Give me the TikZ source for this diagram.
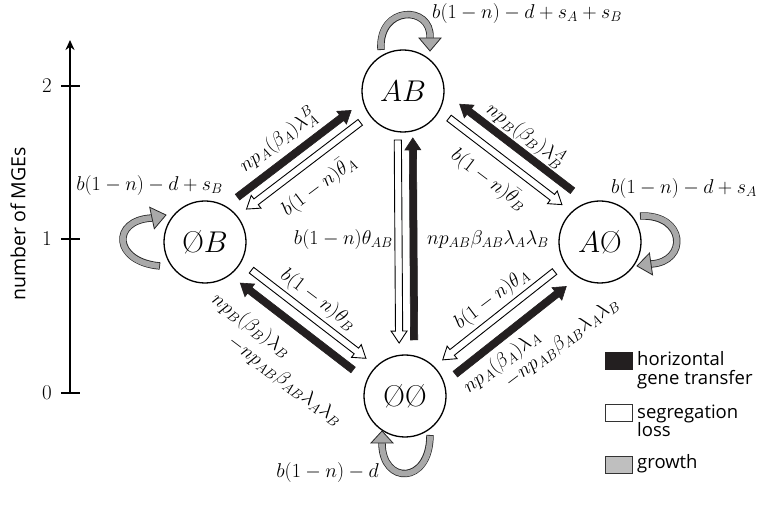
\RequirePackage{fix-cm}
\documentclass[tikz,border=0pt]{standalone}
\usepackage{fontspec}
\newfontfamily\sansf{Open Sans}
\usetikzlibrary{calc,arrows.meta}
\definecolor{hgt}{HTML}{231F20}
\definecolor{grow}{HTML}{A9A9A9}
\definecolor{growleg}{HTML}{BFBFBF}
\newcommand\blockarr[6]{%
 \path ($(#1)!#3!90:(#2)$) coordinate (bxp) ($(#2)!#3!-90:(#1)$) coordinate (bxq);
 \path ($(bxp)!#4!(bxq)$) coordinate (bxs) ($(bxq)!#5!(bxp)$) coordinate (bxe);
 \path ($(bxe)!12pt!(bxs)$) coordinate (bxh);
 \draw[#6] ($(bxs)!3.6pt!90:(bxe)$) -- ($(bxh)!3.6pt!-90:(bxs)$) -- ($(bxh)!8pt!-90:(bxs)$) -- (bxe) -- ($(bxh)!8pt!90:(bxs)$) -- ($(bxh)!3.6pt!90:(bxs)$) -- ($(bxs)!3.6pt!-90:(bxe)$) -- cycle;
}
\newcommand\growloop[3]{%
 \draw[line width=7.4pt, draw=black!85] #1;
 \draw[line width=5.8pt, draw=grow, shorten <=0.8pt] #1;
 \filldraw[fill=grow, draw=black!85, line width=0.8pt] ($(#2)!11pt!90:(#3)$) -- (#3) -- ($(#2)!11pt!-90:(#3)$) -- cycle;
}
\tikzset{
 state/.style={circle, draw, line width=1.3pt, minimum size=82pt, inner sep=0pt, font=\fontsize{30}{30}\selectfont},
 lab/.style={inner sep=0pt, font=\fontsize{20}{23}\selectfont},
 hgtarr/.style={fill=hgt, draw=hgt, line width=0.6pt},
 segarr/.style={fill=white, draw=black, line width=0.9pt},
 sansl/.style={font=\sansf\fontsize{18.5}{18.5}\selectfont, inner sep=0pt, align=left},
}
\begin{document}
\begin{tikzpicture}[x=1pt,y=-1pt]
\useasboundingbox (0,0) rectangle (761,521);
% axis
\draw[line width=2.6pt, -{Stealth[length=10pt,width=9pt]}] (70,393) -- (70,40);
\foreach \yy in {86,239,393} \draw[line width=2.6pt] (61,\yy) -- (80,\yy);
\node[font=\fontsize{21}{21}\selectfont] (t2) at (47,86) {2};
\node[font=\fontsize{21}{21}\selectfont] (t1) at (47,239) {1};
\node[font=\fontsize{21}{21}\selectfont] (t0) at (47,393) {0};
\node[sansl, font=\sansf\fontsize{19.5}{19.5}\selectfont, rotate=90] (ax) at (18,224) {number of MGEs};
% states
\node[state] (AB) at (403,91) {$AB$};
\node[state] (OB) at (205,242) {Ø$B$};
\node[state] (AO) at (600,242) {$A$Ø};
\node[state] (OO) at (405,396) {ØØ};
% pair OB-AB
\blockarr{OB}{AB}{16pt}{53pt}{53pt}{hgtarr}
\blockarr{AB}{OB}{-1pt}{53pt}{53pt}{segarr}
% pair AB-AO
\blockarr{AO}{AB}{-24pt}{53pt}{53pt}{hgtarr}
\blockarr{AB}{AO}{6.5pt}{53pt}{53pt}{segarr}
% pair OB-OO
\blockarr{OB}{OO}{6pt}{54pt}{54pt}{segarr}
\blockarr{OO}{OB}{11pt}{57pt}{53pt}{hgtarr}
% pair OO-AO
\blockarr{AO}{OO}{-5pt}{54pt}{52pt}{segarr}
\blockarr{OO}{AO}{-14pt}{53pt}{54pt}{hgtarr}
% vertical
\blockarr{AB}{OO}{-5.5pt}{49pt}{53pt}{segarr}
\blockarr{OO}{AB}{-9.5pt}{56pt}{47pt}{hgtarr}
% labels
\node[lab, rotate=37] (l1) at (278,140) {$np_A(\beta_A)\lambda_A^B$};
\node[lab, rotate=37] (l2) at (319,186) {$b(1-n)\bar\theta_A$};
\node[lab, rotate=-37] (l3) at (526,135) {$np_B(\beta_B)\lambda_B^A$};
\node[lab, rotate=-37] (l4) at (489,180) {$b(1-n)\bar\theta_B$};
\node[lab, rotate=-37] (l5) at (318,300) {$b(1-n)\theta_B$};
\node[lab, rotate=-37] (l6) at (251,326) {$np_B(\beta_B)\lambda_B$};
\node[lab, rotate=-37] (l7) at (285,381) {$-np_{AB}\beta_{AB}\lambda_A\lambda_B$};
\node[lab, rotate=37] (l8) at (492,299) {$b(1-n)\theta_A$};
\node[lab, rotate=37] (l9) at (502,362) {$np_A(\beta_A)\lambda_A$};
\node[lab, rotate=37] (l10) at (562,343) {$-np_{AB}\beta_{AB}\lambda_A\lambda_B$};
\node[lab, anchor=east] (l11) at (393,240) {$b(1-n)\theta_{AB}$};
\node[lab, anchor=west] (l12) at (427,240) {$np_{AB}\beta_{AB}\lambda_A\lambda_B$};
% loops
\growloop{(381,50) .. controls (378,5) and (432,5) .. (430,38)}{430,38}{430,51}
\growloop{(160,266) .. controls (113,262) and (111,220) .. (152,218)}{152,218}{166,215}
\growloop{(640,216) .. controls (686,214) and (688,262) .. (651,264)}{651,264}{637,266}
\growloop{(430,435) .. controls (430,485) and (382,485) .. (382,443)}{382,443}{382,431}
\node[lab, anchor=west] (g1) at (432,14) {$b(1-n)-d+s_A+s_B$};
\node[lab, anchor=east] (g2) at (223,186) {$b(1-n)-d+s_B$};
\node[lab, anchor=east] (g3) at (757,189) {$b(1-n)-d+s_A$};
\node[lab, anchor=east] (g4) at (379,473) {$b(1-n)-d$};
% legend
\node[draw=hgt, fill=hgt, minimum width=27pt, minimum height=17pt, inner sep=0pt] (k1) at (618.5,361) {};
\node[draw=black!80, fill=white, line width=0.9pt, minimum width=27pt, minimum height=17pt, inner sep=0pt] (k2) at (618.5,412.5) {};
\node[draw=black!80, fill=growleg, line width=0.9pt, minimum width=27pt, minimum height=17pt, inner sep=0pt] (k3) at (618.5,464.5) {};
\node[sansl, anchor=west] (k1t) at (637,370) {horizontal\\gene transfer};
\node[sansl, anchor=west] (k2t) at (637,421) {segregation\\loss};
\node[sansl, anchor=west] (k3t) at (637,464) {growth};
\end{tikzpicture}
\end{document}
